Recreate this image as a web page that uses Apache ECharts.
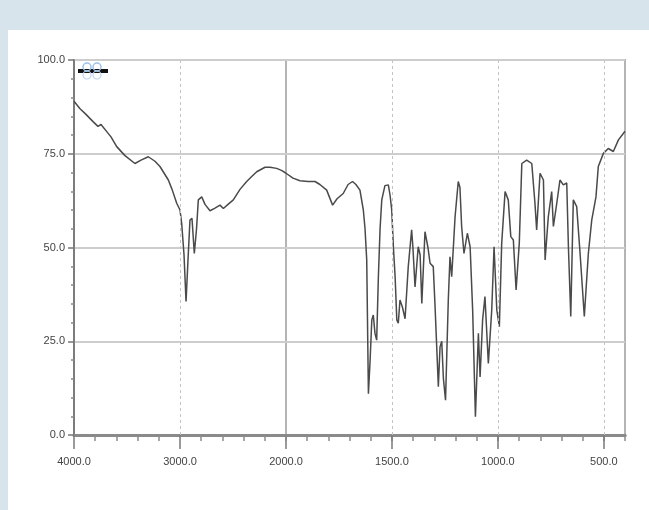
<!DOCTYPE html>
<html>
<head>
<meta charset="utf-8">
<script src="https://cdn.jsdelivr.net/npm/echarts@6/dist/echarts.min.js"></script>
<style>
  html, body { margin: 0; padding: 0; background: #d7e4ec; }
  #panel { position: absolute; left: 8px; top: 30px; width: 641px; height: 480px; background: #ffffff; }
  #chart { position: absolute; left: 0; top: 0; width: 649px; height: 510px; }
</style>
</head>
<body>
<div id="panel"></div>
<div id="chart"></div>
<script>
// Wavenumber (cm-1) and transmittance (%)
const wavenumbers = [
  4000, 3943, 3887, 3818, 3774, 3745, 3691, 3651, 3597, 3519, 3425, 3368, 3299, 3236, 3189,
  3110, 3075, 3031, 3000, 2984, 2962, 2943, 2924, 2906, 2887, 2865, 2844, 2827, 2795, 2764,
  2717, 2670, 2623, 2591, 2547, 2497, 2434, 2371, 2321, 2276, 2198, 2151, 2088, 2038, 2000,
  1967, 1934, 1896, 1863, 1840, 1808, 1780, 1759, 1730, 1707, 1686, 1670, 1651, 1635, 1627,
  1619, 1611, 1603, 1595, 1588, 1580, 1572, 1564, 1556, 1548, 1533, 1517, 1509, 1501, 1493,
  1485, 1477, 1470, 1462, 1450, 1438, 1423, 1407, 1401, 1391, 1376, 1367, 1359, 1344, 1330,
  1320, 1305, 1297, 1281, 1273, 1265, 1257, 1247, 1234, 1226, 1218, 1202, 1187, 1179, 1171,
  1160, 1144, 1131, 1119, 1106, 1092, 1084, 1072, 1061, 1045, 1029, 1018, 1005, 993, 982,
  966, 951, 939, 927, 914, 899, 887, 864, 840, 825, 817, 801, 785, 777, 762,
  746, 738, 722, 707, 691, 675, 667, 656, 644, 628, 612, 592, 573, 557, 537,
  526, 502, 479, 455, 431, 408, 400
];
const transmittance = [
  89, 87, 85.5, 83.5, 82.3, 82.8, 80.9, 79.5, 76.9, 74.5, 72.4, 73.3, 74.2, 73, 71.6,
  68, 65.5, 61.8, 60, 56.4, 48, 35.6, 47, 57.3, 57.8, 48.4, 55, 62.7, 63.5, 61.5,
  59.8, 60.5, 61.3, 60.4, 61.5, 62.7, 65.5, 67.6, 69, 70.2, 71.4, 71.4, 71.1, 70.5, 69.8,
  68.5, 67.8, 67.6, 67.6, 66.8, 65.3, 61.3, 63, 64.4, 66.8, 67.6, 66.8, 65.3, 60, 55,
  46.7, 11, 20, 30.7, 32, 27.1, 25.3, 42.2, 55, 62.7, 66.5, 66.7, 64, 60, 50,
  42.2, 30.7, 29.8, 36, 34, 31, 44.9, 54.7, 50, 39.5, 50.2, 48, 35.1, 54.2, 50,
  45.8, 44.9, 35, 12.9, 23.5, 25, 15, 9.3, 36, 47.5, 42.2, 58.2, 67.6, 66, 55.6,
  48.4, 53.8, 50.2, 33.3, 4.9, 27.1, 15.5, 30.7, 36.9, 19.1, 33.3, 50.2, 33.3, 28.9, 51.1,
  64.9, 62.7, 52.9, 52, 38.7, 51.1, 72.4, 73.3, 72.4, 61.8, 54.7, 69.8, 68, 46.7, 58.2,
  64.9, 55.6, 61.8, 68, 66.7, 67.2, 50, 31.6, 62.7, 60.9, 48.4, 31.6, 48.4, 57.3, 63.5,
  71.6, 75.1, 76.4, 75.6, 78.7, 80.4, 81
];
const yTicks = [0, 25, 50, 75, 100];
const xMajorLeft = [4000, 3000, 2000];
const xMajorRight = [1500, 1000, 500];

const pairs = wavenumbers.map((w, i) => [w, transmittance[i]]);
const highPart = pairs.filter(p => p[0] >= 2000);
const lowPart = pairs.filter(p => p[0] <= 2000);

const chart = echarts.init(document.getElementById('chart'), null, { renderer: 'canvas' });

const labelFont = { color: '#444', fontSize: 11, fontFamily: 'Liberation Sans, Arial, sans-serif' };
const gridBorder = { show: true, borderColor: '#b4b4b4', borderWidth: 2, backgroundColor: 'transparent' };
const dashed = { color: '#c4c4c4', type: [3, 3], width: 1 };
const xLine = { show: true, onZero: false, lineStyle: { color: '#8a8a8a', width: 3 } };
const tickStyle = { color: '#8a8a8a', width: 1.5 };
const majorTickStyle = { color: '#7a7a7a', width: 1.5 };

chart.setOption({
  animation: false,
  backgroundColor: 'transparent',
  legend: {
    left: 73, top: 64,
    itemWidth: 30, itemHeight: 4,
    icon: 'rect',
    itemStyle: { color: '#111' },
    formatter: () => '',
    data: ['Spectrum'],
    selectedMode: false
  },
  graphic: [
    { type: 'circle', shape: { cx: 87, cy: 67, r: 4 }, style: { fill: 'none', stroke: '#9cc1ea', lineWidth: 1.5 }, z: 10 },
    { type: 'circle', shape: { cx: 97, cy: 67, r: 4 }, style: { fill: 'none', stroke: '#9cc1ea', lineWidth: 1.5 }, z: 10 },
    { type: 'circle', shape: { cx: 87, cy: 75, r: 4 }, style: { fill: 'none', stroke: '#bdd5f0', lineWidth: 1.2 }, z: 10 },
    { type: 'circle', shape: { cx: 97, cy: 75, r: 4 }, style: { fill: 'none', stroke: '#bdd5f0', lineWidth: 1.2 }, z: 10 }
  ],
  grid: [
    Object.assign({ left: 74, top: 60, width: 212, height: 375 }, gridBorder),
    Object.assign({ left: 286, top: 60, width: 339, height: 375 }, gridBorder)
  ],
  xAxis: [
    {
      type: 'value', gridIndex: 0, position: 'bottom', min: 2000, max: 4000, interval: 1000, inverse: true,
      axisLine: xLine,
      axisTick: { show: true, inside: false, length: 14, lineStyle: majorTickStyle },
      minorTick: { show: true, splitNumber: 5, length: 6, lineStyle: tickStyle },
      axisLabel: Object.assign({ margin: 21, showMinLabel: true, showMaxLabel: true,
        formatter: v => xMajorLeft.includes(v) ? v.toFixed(1) : '' }, labelFont),
      splitLine: { show: false }
    },
    {
      type: 'value', gridIndex: 1, position: 'bottom', min: 400, max: 2000, interval: 100, inverse: true,
      axisLine: xLine,
      axisTick: { show: true, length: 6, lineStyle: tickStyle },
      axisLabel: { show: false }, splitLine: { show: false }
    },
    {
      type: 'value', gridIndex: 1, position: 'bottom', min: 400, max: 2000, inverse: true,
      axisLine: xLine,
      axisTick: { show: true, inside: false, length: 14, customValues: xMajorRight, lineStyle: majorTickStyle },
      axisLabel: Object.assign({ margin: 21, customValues: xMajorRight, formatter: v => v.toFixed(1) }, labelFont),
      splitLine: { show: false }
    }
  ],
  yAxis: [
    {
      type: 'value', gridIndex: 0, position: 'left', min: 0, max: 100, interval: 25,
      axisLine: { show: true, lineStyle: { color: '#6a6a6a', width: 1.5 } },
      axisTick: { show: true, length: 6, lineStyle: { color: '#777', width: 1.5 } },
      minorTick: { show: true, splitNumber: 5, length: 3, lineStyle: { color: '#888', width: 1.5 } },
      axisLabel: Object.assign({ margin: 9, formatter: v => yTicks.includes(v) ? v.toFixed(1) : '' }, labelFont),
      splitLine: { show: true, lineStyle: { color: '#cdcdcd', width: 2 } }
    },
    {
      type: 'value', gridIndex: 1, position: 'left', min: 0, max: 100, interval: 25,
      axisLine: { show: false }, axisTick: { show: false }, axisLabel: { show: false },
      splitLine: { show: true, lineStyle: { color: '#cdcdcd', width: 2 } }
    }
  ],
  series: [
    {
      name: 'Spectrum', type: 'line', xAxisIndex: 0, yAxisIndex: 0,
      data: highPart, showSymbol: false, symbol: 'none', clip: true,
      lineStyle: { color: '#4a4a4a', width: 1.5 }, itemStyle: { color: '#4a4a4a' },
      markLine: { silent: true, symbol: 'none', label: { show: false }, lineStyle: dashed,
        data: [{ xAxis: 3000 }] }
    },
    {
      name: 'Spectrum', type: 'line', xAxisIndex: 1, yAxisIndex: 1,
      data: lowPart, showSymbol: false, symbol: 'none', clip: true,
      lineStyle: { color: '#4a4a4a', width: 1.5 }, itemStyle: { color: '#4a4a4a' },
      markLine: { silent: true, symbol: 'none', label: { show: false }, lineStyle: dashed,
        data: [{ xAxis: 1500 }, { xAxis: 1000 }, { xAxis: 500 }] }
    }
  ]
});
</script>
</body>
</html>
